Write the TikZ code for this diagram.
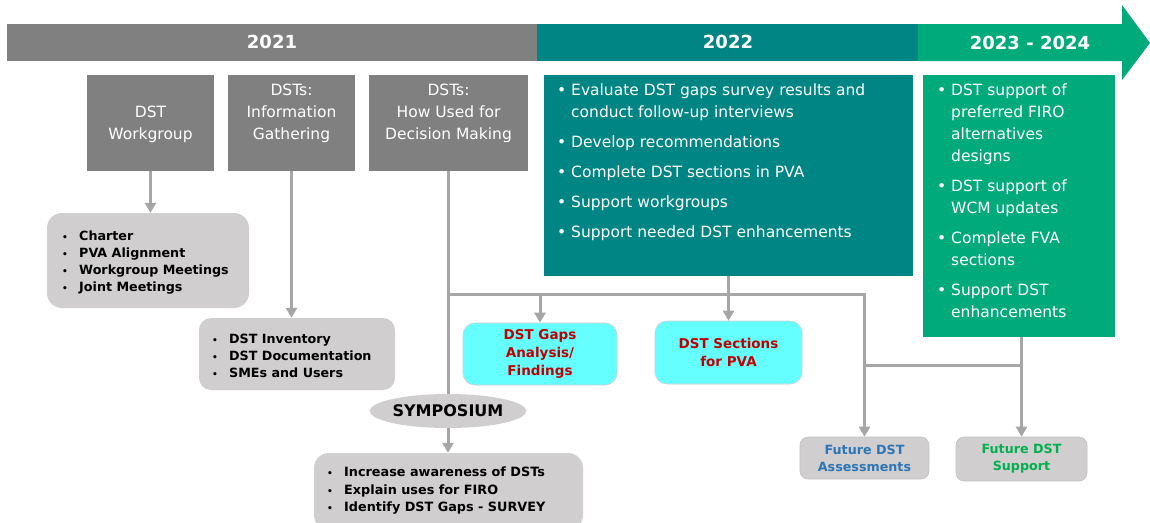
\documentclass[tikz,border=0pt]{standalone}
\usepackage{fontspec}
\setmainfont{DejaVu Sans}
\usetikzlibrary{arrows.meta,shapes.geometric}
\definecolor{barGray}{RGB}{128,128,128}
\definecolor{tealc}{RGB}{0,133,133}
\definecolor{greenc}{RGB}{0,170,122}
\definecolor{lineGray}{RGB}{166,166,166}
\definecolor{lightGray}{RGB}{208,206,206}
\definecolor{cyanc}{RGB}{102,255,255}
\definecolor{redc}{RGB}{192,0,0}
\definecolor{bluec}{RGB}{46,117,182}
\definecolor{greent}{RGB}{0,176,80}
\newcommand\bu[1]{\makebox[#1][l]{\textbullet}}
\newcommand\sbu[1]{\makebox[#1][l]{\fontsize{9}{9}\selectfont\textbullet}}
\begin{document}
\begin{tikzpicture}[x=1pt,y=-1pt,
  conn/.style={draw=lineGray, line width=3pt},
  arr/.style={-{Triangle[width=11pt,length=10pt]}},
  hdr/.style={text=white, font=\fontsize{18}{22}\selectfont\bfseries, inner sep=0pt},
  darkbox/.style={fill=barGray, inner sep=0pt},
  wlabel/.style={text=white, align=center, font=\fontsize{15.5}{22}\selectfont, inner sep=0pt},
  lgbox/.style={fill=lightGray, rounded corners=15pt, inner sep=0pt},
  cybox/.style={fill=cyanc, draw=lightGray, line width=0.6pt, rounded corners=12pt, inner sep=0pt, align=center, text=redc, font=\fontsize{13.5}{18}\selectfont\bfseries},
  futbox/.style={fill=lightGray, draw=lightGray!85!gray, line width=0.6pt, rounded corners=8pt, inner sep=0pt, align=center, font=\fontsize{12.7}{17}\selectfont\bfseries},
  biglist/.style={anchor=north west, inner sep=0pt, text=white, font=\fontsize{15.5}{22}\selectfont},
  smlist/.style={anchor=north west, inner sep=0pt, text=black, font=\fontsize{12.7}{17}\selectfont\bfseries}
]
\useasboundingbox (0,0) rectangle (1150,522);
\fill[white] (0,0) rectangle (1150,522);
% timeline bar
\fill[barGray] (7,24) rectangle (537,61);
\fill[tealc] (537,24) rectangle (918,61);
\fill[greenc] (918,24) -- (1122,24) -- (1122,5) -- (1150,43) -- (1122,80) -- (1122,61) -- (918,61) -- cycle;
\node[hdr] (h21) at (272,42) {2021};
\node[hdr] (h22) at (728,42) {2022};
\node[hdr] (h23) at (1030,43) {2023 - 2024};
% top boxes
\node[darkbox, minimum width=127pt, minimum height=96pt] (wg) at (150.5,123) {};
\node[wlabel] (wgt) at (150.5,124) {DST\\Workgroup};
\node[darkbox, minimum width=127pt, minimum height=96pt] (ig) at (291.5,123) {};
\node[wlabel] (igt) at (291.5,113) {DSTs:\\Information\\Gathering};
\node[darkbox, minimum width=159pt, minimum height=96pt] (hu) at (448.5,123) {};
\node[wlabel] (hut) at (448.5,113) {DSTs:\\How Used for\\Decision Making};
\node[fill=tealc, inner sep=0pt, minimum width=369pt, minimum height=201pt] (t22) at (728.5,175.5) {};
\node[fill=greenc, inner sep=0pt, minimum width=192pt, minimum height=262pt] (g23) at (1019,206) {};
\node[biglist] (t22txt) at (557,80) {\begin{tabular}{@{}l@{}l@{}}
\bu{14pt}&Evaluate DST gaps survey results and\\
&conduct follow-up interviews\\[8pt]
\bu{14pt}&Develop recommendations\\[8pt]
\bu{14pt}&Complete DST sections in PVA\\[8pt]
\bu{14pt}&Support workgroups\\[8pt]
\bu{14pt}&Support needed DST enhancements
\end{tabular}};
\node[biglist] (g23txt) at (937,80) {\begin{tabular}{@{}l@{}l@{}}
\bu{14pt}&DST support of\\
&preferred FIRO\\
&alternatives\\
&designs\\[8pt]
\bu{14pt}&DST support of\\
&WCM updates\\[8pt]
\bu{14pt}&Complete FVA\\
&sections\\[8pt]
\bu{14pt}&Support DST\\
&enhancements
\end{tabular}};
% lower boxes
\node[lgbox, minimum width=202pt, minimum height=95pt] (charter) at (148,260.5) {};
\node[smlist] (chtxt) at (62,228.7) {\begin{tabular}{@{}l@{}l@{}}
\sbu{17pt}&Charter\\
\sbu{17pt}&PVA Alignment\\
\sbu{17pt}&Workgroup Meetings\\
\sbu{17pt}&Joint Meetings
\end{tabular}};
\node[lgbox, rounded corners=12pt, minimum width=196pt, minimum height=72pt] (inv) at (297,354) {};
\node[smlist] (invtxt) at (212,331.7) {\begin{tabular}{@{}l@{}l@{}}
\sbu{17pt}&DST Inventory\\
\sbu{17pt}&DST Documentation\\
\sbu{17pt}&SMEs and Users
\end{tabular}};
\node[cybox, minimum width=154pt, minimum height=62pt] (gaps) at (540,354) {DST Gaps\\Analysis/\\Findings};
\node[cybox, minimum width=147pt, minimum height=63pt] (sec) at (728.5,352.5) {DST Sections\\for PVA};
\node[ellipse, fill=lightGray, inner sep=0pt, minimum width=148pt, minimum height=34pt, font=\fontsize{16}{18}\selectfont\bfseries] (sym) at (448,411) {SYMPOSIUM};
\node[lgbox, minimum width=269pt, minimum height=77pt] (bot) at (448.5,491.5) {};
\node[smlist, font=\fontsize{12.8}{17.5}\selectfont\bfseries] (bottxt) at (327,464.4) {\begin{tabular}{@{}l@{}l@{}}
\sbu{17pt}&Increase awareness of DSTs\\
\sbu{17pt}&Explain uses for FIRO\\
\sbu{17pt}&Identify DST Gaps - SURVEY
\end{tabular}};
\node[futbox, minimum width=129pt, minimum height=42pt, text=bluec] (fa) at (864.5,458) {Future DST\\Assessments};
\node[futbox, minimum width=131pt, minimum height=44pt, text=greent] (fs) at (1021.5,459) {Future DST\\Support};
% connectors
\draw[conn,arr] (wg.south) -- (wg.south |- charter.north);
\draw[conn,arr] (ig.south) -- (ig.south |- inv.north);
\draw[conn] (hu.south) -- (hu.south |- sym.north);
\draw[conn,arr] (sym.south) -- (sym.south |- bot.north);
\coordinate (j1) at (hu.south |- 0,294);
\draw[conn,arr] (j1) -| (gaps.north);
\draw[conn,arr] (j1) -| (fa.north);
\draw[conn,arr] (t22.south) -- (sec.north);
\draw[conn,arr] (g23.south -| fs.north) -- (fs.north);
\coordinate (j3) at (fs.north |- 0,365);
\draw[conn] (j3) -- (j3 -| fa.north);
\end{tikzpicture}
\end{document}
